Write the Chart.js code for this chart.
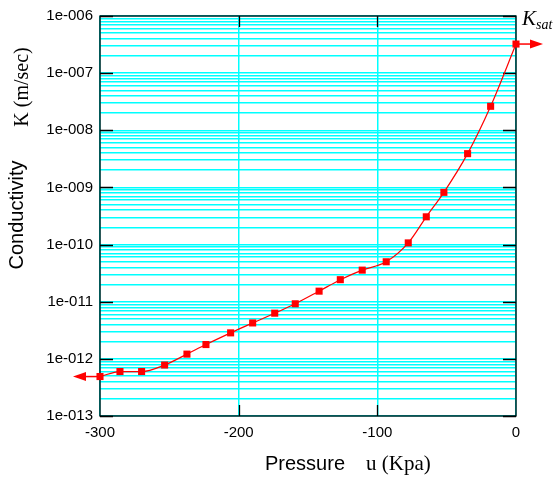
<!DOCTYPE html>
<html>
<head>
<meta charset="utf-8">
<script src="https://cdn.jsdelivr.net/npm/chart.js@4"></script>
<style>
  html, body { margin: 0; padding: 0; background: #fff; }
  #wrap { width: 553px; height: 480px; }
</style>
</head>
<body>
<div id="wrap"><canvas id="kChart"></canvas></div>
<script>
// suction (kPa) vs hydraulic conductivity
const pressure = [-300, -285.6, -270, -253.4, -237.3, -223.6, -205.8, -189.9, -174, -159.2,
  -142, -126.7, -110.9, -93.6, -77.7, -64.7, -52, -34.9, -18.3, 0];
const conductivity = [4.9e-13, 6.0e-13, 6.0e-13, 7.8e-13, 1.21e-12, 1.78e-12, 2.85e-12, 4.25e-12, 6.3e-12, 9.2e-12,
  1.53e-11, 2.43e-11, 3.57e-11, 5.0e-11, 1.07e-10, 3.06e-10, 8.2e-10, 3.9e-9, 2.63e-8, 3.23e-7];

const xTicks = [-300, -200, -100, 0];
const xTickLabels = ['-300', '-200', '-100', '0'];
const yDecades = [1e-13, 1e-12, 1e-11, 1e-10, 1e-9, 1e-8, 1e-7, 1e-6];
const yTickLabels = ['1e-013', '1e-012', '1e-011', '1e-010', '1e-009', '1e-008', '1e-007', '1e-006'];
const minorSteps = [2, 3, 4, 5, 6, 7, 8, 9];

// every 1..9 x 10^n value gets a cyan grid line
const yGridValues = [];
yDecades.forEach((d, i) => {
  yGridValues.push(d);
  if (i < yDecades.length - 1) minorSteps.forEach(m => yGridValues.push(m * d));
});

function decadeIndex(v) {
  const e = Math.log10(v);
  if (Math.abs(e - Math.round(e)) > 1e-6) return -1;
  return yDecades.findIndex(d => Math.abs(Math.log10(d) - e) < 1e-6);
}

const frame = {
  id: 'frame',
  beforeDatasetsDraw(chart) {
    const { ctx, chartArea: a, scales } = chart;
    ctx.save();
    ctx.strokeStyle = '#000';
    ctx.lineWidth = 1.3;
    ctx.strokeRect(a.left, a.top, a.right - a.left, a.bottom - a.top);
    ctx.beginPath();
    yDecades.forEach(d => {
      const y = Math.round(scales.y.getPixelForValue(d)) + 0.5;
      ctx.moveTo(a.left, y); ctx.lineTo(a.left + 13, y);
      ctx.moveTo(a.right, y); ctx.lineTo(a.right - 13, y);
    });
    xTicks.slice(1, -1).forEach(v => {
      const x = Math.round(scales.x.getPixelForValue(v)) + 0.5;
      ctx.moveTo(x, a.top); ctx.lineTo(x, a.top + 11);
      ctx.moveTo(x, a.bottom); ctx.lineTo(x, a.bottom - 11);
    });
    ctx.stroke();
    ctx.restore();
  },
  afterDatasetsDraw(chart) {
    const { ctx } = chart;
    const pts = chart.getDatasetMeta(0).data;
    const first = pts[0], last = pts[pts.length - 1];
    ctx.save();
    ctx.strokeStyle = '#f00';
    ctx.fillStyle = '#f00';
    ctx.lineWidth = 1.5;
    // arrow out of each end of the curve
    [[first, -1], [last, 1]].forEach(([p, dir]) => {
      ctx.beginPath();
      ctx.moveTo(p.x, p.y);
      ctx.lineTo(p.x + dir * 15, p.y);
      ctx.stroke();
      ctx.beginPath();
      ctx.moveTo(p.x + dir * 14, p.y - 4.5);
      ctx.lineTo(p.x + dir * 27, p.y);
      ctx.lineTo(p.x + dir * 14, p.y + 4.5);
      ctx.closePath();
      ctx.fill();
    });
    ctx.restore();
  },
  afterDraw(chart) {
    const { ctx } = chart;
    ctx.save();
    ctx.fillStyle = '#000';
    ctx.textBaseline = 'middle';

    // y axis title, two fonts
    ctx.save();
    ctx.translate(17, 215);
    ctx.rotate(-Math.PI / 2);
    ctx.textAlign = 'center';
    ctx.font = '20px "Liberation Sans", Arial, sans-serif';
    ctx.fillText('Conductivity', 0, 0);
    ctx.restore();
    ctx.save();
    ctx.translate(23, 87);
    ctx.rotate(-Math.PI / 2);
    ctx.textAlign = 'center';
    ctx.font = '20px "Liberation Serif", "Times New Roman", serif';
    ctx.fillText('K (m/sec)', 0, 0);
    ctx.restore();

    // x axis title
    ctx.textAlign = 'left';
    ctx.font = '20px "Liberation Sans", Arial, sans-serif';
    ctx.fillText('Pressure', 265, 464);
    ctx.font = '21px "Liberation Serif", "Times New Roman", serif';
    ctx.fillText('u (Kpa)', 366, 464);

    // K_sat marker label
    ctx.textBaseline = 'alphabetic';
    ctx.font = 'italic 21px "Liberation Serif", "Times New Roman", serif';
    ctx.fillText('K', 522, 25);
    ctx.font = 'italic 14px "Liberation Serif", "Times New Roman", serif';
    ctx.fillText('sat', 536, 29);
    ctx.restore();
  }
};

new Chart(document.getElementById('kChart'), {
  type: 'line',
  data: {
    datasets: [{
      data: pressure.map((p, i) => ({ x: p, y: conductivity[i] })),
      borderColor: '#ff0000',
      backgroundColor: '#ff0000',
      borderWidth: 1.2,
      pointStyle: 'rect',
      pointRadius: 5,
      pointBorderWidth: 0,
      cubicInterpolationMode: 'monotone',
      clip: false
    }]
  },
  options: {
    responsive: true,
    maintainAspectRatio: false,
    animation: false,
    layout: { padding: { left: 0, top: 13, right: 37, bottom: 0 } },
    plugins: { legend: { display: false }, tooltip: { enabled: false } },
    scales: {
      x: {
        type: 'linear',
        min: -300,
        max: 0,
        afterBuildTicks: s => { s.ticks = xTicks.map(v => ({ value: v })); },
        afterFit: s => { s.height = 64; },
        grid: { color: '#00ffff', lineWidth: 1.5, drawTicks: false },
        border: { display: false },
        ticks: {
          padding: 8,
          color: '#000',
          font: { family: '"Liberation Sans", Arial, sans-serif', size: 15 },
          callback: v => xTickLabels[xTicks.indexOf(v)]
        }
      },
      y: {
        type: 'logarithmic',
        min: 1e-13,
        max: 1e-6,
        afterBuildTicks: s => { s.ticks = yGridValues.map(v => ({ value: v })); },
        afterFit: s => { s.width = 100; },
        grid: { color: '#00ffff', lineWidth: 1.5, drawTicks: false },
        border: { display: false },
        ticks: {
          autoSkip: false,
          padding: 7,
          color: '#000',
          font: { family: '"Liberation Sans", Arial, sans-serif', size: 15 },
          callback: v => {
            const i = decadeIndex(v);
            return i < 0 ? '' : yTickLabels[i];
          }
        }
      }
    }
  },
  plugins: [frame]
});
</script>
</body>
</html>
